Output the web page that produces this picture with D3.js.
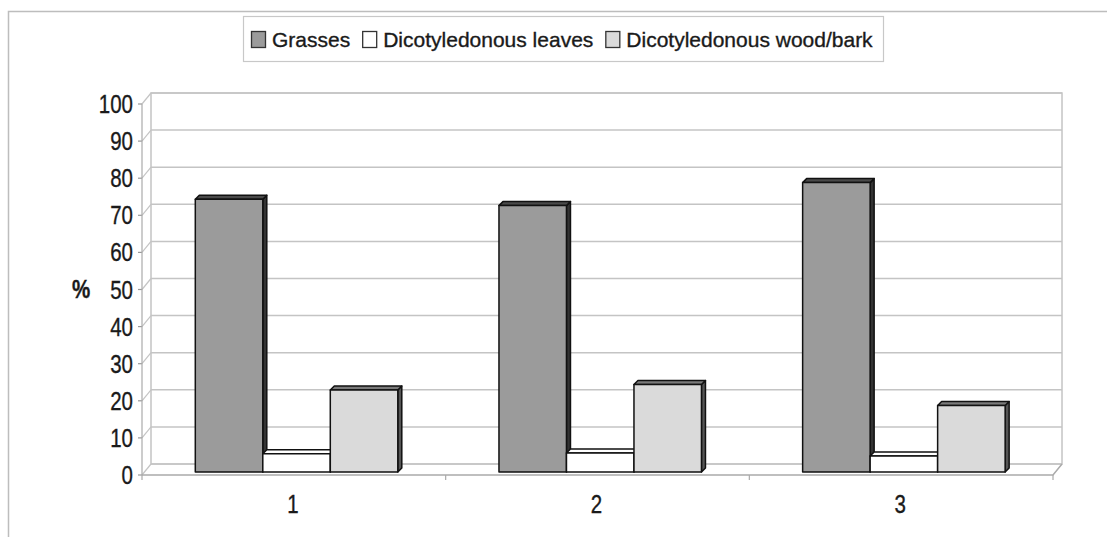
<!DOCTYPE html>
<html><head><meta charset="utf-8">
<script src="https://cdn.jsdelivr.net/npm/d3@7"></script>
<style>body{margin:0;background:#fff}svg{display:block}text{font-family:"Liberation Sans",Arial,sans-serif;fill:#1a1a1a;stroke:#1a1a1a;stroke-width:0.35px}</style>
</head><body><svg id="c" width="1107" height="537"></svg>
<script>
const categories = ["1", "2", "3"];
const seriesNames = ["Grasses", "Dicotyledonous leaves", "Dicotyledonous wood/bark"];
const grasses = [73.5, 71.8, 78.0];
const leaves = [4.9, 5.1, 4.3];
const wood = [22.1, 23.6, 17.9];
const yTicks = [0, 10, 20, 30, 40, 50, 60, 70, 80, 90, 100];
const yTitle = "%";

const seriesValues = [grasses, leaves, wood];
const fills = ["#9b9b9b", "#ffffff", "#dadada"];
const tops = ["#4a4a4a", "#ffffff", "#7a7a7a"];
const sides = ["#333333", "#8a8a8a", "#555555"];

const svg = d3.select("#c");
const SX = 0.82;

// outer frame
svg.append("path").attr("d", "M8.5,537 V11.5 H1107").attr("fill", "none").attr("stroke", "#bdbdbd").attr("stroke-width", 1.5);

// geometry
const fx0 = 142, fx1 = 1053, DX = 9, DY = -11;
const yFront = d3.scaleLinear().domain([0, 100]).range([475, 104]);
const yBack = d3.scaleLinear().domain([0, 100]).range([475 + DY, 104 + DY]);
const yBar = d3.scaleLinear().domain([0, 100]).range([472, 101]);
const x = d3.scaleBand().domain(categories).range([fx0, fx1]);
const xs = d3.scaleBand().domain(seriesNames).range([53.3, 255.8]);
const bdx = 4, bdy = -4;

const grid = "#c4c4c4";
const g = svg.append("g");
// back wall
g.append("rect").attr("x", fx0 + DX).attr("y", yBack(100)).attr("width", fx1 - fx0).attr("height", yBack(0) - yBack(100))
  .attr("fill", "none").attr("stroke", grid).attr("stroke-width", 1.5);
// gridlines on back wall and side wall
yTicks.forEach(t => {
  g.append("line").attr("x1", fx0 + DX).attr("x2", fx1 + DX).attr("y1", yBack(t)).attr("y2", yBack(t)).attr("stroke", grid).attr("stroke-width", 1.5);
  g.append("line").attr("x1", fx0).attr("x2", fx0 + DX).attr("y1", yFront(t)).attr("y2", yBack(t)).attr("stroke", grid).attr("stroke-width", 1.2);
  g.append("line").attr("x1", fx0 - 4).attr("x2", fx0).attr("y1", yFront(t)).attr("y2", yFront(t)).attr("stroke", "#999").attr("stroke-width", 1.2);
});
// front axis line
g.append("line").attr("x1", fx0).attr("x2", fx0).attr("y1", yFront(0)).attr("y2", yFront(100)).attr("stroke", "#aaa").attr("stroke-width", 1.2);
// floor front edge
g.append("path").attr("d", `M${fx0},${yFront(0)} H${fx1} L${fx1 + DX},${yBack(0)}`).attr("fill", "none").attr("stroke", "#aaa").attr("stroke-width", 1.5);
// category ticks
x.domain().concat(["end"]).forEach((c, i) => {
  const xx = i < categories.length ? x(c) : fx1;
  g.append("line").attr("x1", xx).attr("x2", xx).attr("y1", yFront(0)).attr("y2", yFront(0) + 5).attr("stroke", "#aaa").attr("stroke-width", 1.2);
});

// y labels
yTicks.forEach(t => {
  svg.append("text").attr("transform", `translate(133,${yFront(t) + 9}) scale(${SX},1)`)
    .attr("text-anchor", "end").attr("font-size", 25).text(t);
});
svg.append("text").attr("transform", `translate(81,${yFront(50) + 8}) scale(${SX},1)`)
  .attr("text-anchor", "middle").attr("font-size", 25).attr("font-weight", "bold").text(yTitle);

// x labels
categories.forEach(c => {
  svg.append("text").attr("transform", `translate(${x(c) + x.bandwidth() / 2 - 1},${513}) scale(${SX},1)`)
    .attr("text-anchor", "middle").attr("font-size", 25).text(c);
});

// bars
const bars = svg.append("g").attr("stroke", "#111").attr("stroke-width", 1.5).attr("stroke-linejoin", "round");
categories.forEach((c, ci) => {
  seriesNames.forEach((s, si) => {
    const v = seriesValues[si][ci];
    const x0 = x(c) + xs(s), w = xs.bandwidth();
    const y0 = yBar(0), y1 = yBar(v);
    bars.append("path").attr("d", `M${x0 + w},${y0} L${x0 + w + bdx},${y0 + bdy} L${x0 + w + bdx},${y1 + bdy} L${x0 + w},${y1} Z`).attr("fill", sides[si]);
    bars.append("path").attr("d", `M${x0},${y1} L${x0 + bdx},${y1 + bdy} L${x0 + w + bdx},${y1 + bdy} L${x0 + w},${y1} Z`).attr("fill", tops[si]);
    bars.append("rect").attr("x", x0).attr("y", y1).attr("width", w).attr("height", y0 - y1).attr("fill", fills[si]);
  });
});

// legend
const leg = svg.append("g");
leg.append("rect").attr("x", 243.5).attr("y", 16.5).attr("width", 640).attr("height", 45).attr("fill", "#fff").attr("stroke", "#c8c8c8").attr("stroke-width", 1.2);
let lx = 251;
seriesNames.forEach((s, i) => {
  leg.append("rect").attr("x", lx + 0.5).attr("y", 31.5).attr("width", 14).attr("height", 16).attr("fill", fills[i]).attr("stroke", "#333").attr("stroke-width", 1.3);
  const t = leg.append("text").attr("x", lx + 21).attr("y", 47).attr("font-size", 21).text(s);
  lx = lx + 21 + t.node().getComputedTextLength() + 12;
});
</script></body></html>
